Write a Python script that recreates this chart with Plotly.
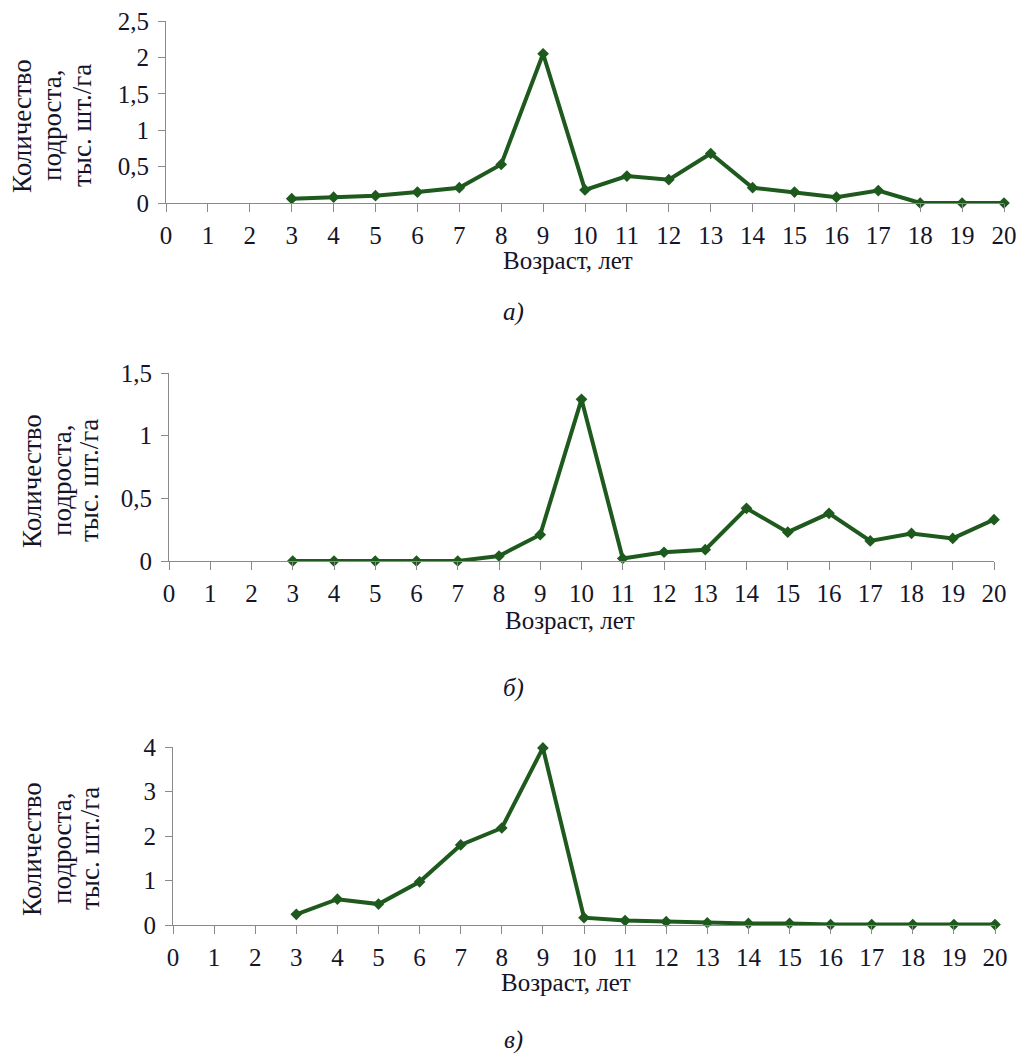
import plotly.graph_objects as go

W, H = 1017, 1054

ages = list(range(3, 21))
x_ticks = list(range(0, 21))

vals_a = [0.06, 0.08, 0.10, 0.15, 0.21, 0.53, 2.05, 0.18, 0.37, 0.32, 0.68, 0.21, 0.15, 0.08, 0.17, 0.0, 0.0, 0.0]
vals_b = [0.0, 0.0, 0.0, 0.0, 0.0, 0.04, 0.21, 1.29, 0.02, 0.07, 0.09, 0.42, 0.23, 0.38, 0.16, 0.22, 0.18, 0.33]
vals_c = [0.24, 0.58, 0.47, 0.97, 1.80, 2.18, 3.98, 0.165, 0.10, 0.075, 0.05, 0.035, 0.035, 0.01, 0.01, 0.01, 0.01, 0.01]

yticks_a = [0, 0.5, 1, 1.5, 2, 2.5]
ytext_a = ["0", "0,5", "1", "1,5", "2", "2,5"]
yticks_b = [0, 0.5, 1, 1.5]
ytext_b = ["0", "0,5", "1", "1,5"]
yticks_c = [0, 1, 2, 3, 4]
ytext_c = ["0", "1", "2", "3", "4"]

y_title_lines = ["Количество", "подроста,", "тыс. шт./га"]
x_title = "Возраст, лет"
captions = ["а)", "б)", "в)"]

LINE = "#1e5a1e"
AXIS = "#8a8a8a"
TXT = "#15152a"
FONT = "Liberation Serif"
FS = 25
FS_YT = 27


def px(x):
    return x / W


def py(y):
    return 1 - y / H


panels = [
    dict(vals=vals_a, x0=166, x1=1004, yb=203, yt=21, ymax=2.5, tv=yticks_a, tt=ytext_a,
         ytx=[22, 52, 82], yty=126, xtitle=(568, 261), cap=(513, 312)),
    dict(vals=vals_b, x0=169, x1=994, yb=561, yt=373, ymax=1.5, tv=yticks_b, tt=ytext_b,
         ytx=[32, 62, 89], yty=481, xtitle=(570, 620), cap=(513, 688)),
    dict(vals=vals_c, x0=173, x1=995, yb=925, yt=747, ymax=4, tv=yticks_c, tt=ytext_c,
         ytx=[32, 62, 90], yty=849, xtitle=(566, 982), cap=(513, 1040)),
]

fig = go.Figure()
annotations = []
layout = {}
for i, p in enumerate(panels, start=1):
    xa = "x" if i == 1 else f"x{i}"
    ya = "y" if i == 1 else f"y{i}"
    fig.add_trace(go.Scatter(
        x=ages, y=p["vals"], mode="lines+markers", xaxis=xa, yaxis=ya,
        line=dict(color=LINE, width=4),
        marker=dict(symbol="diamond", size=9, color=LINE),
        cliponaxis=False, showlegend=False,
    ))
    kx = "xaxis" if i == 1 else f"xaxis{i}"
    ky = "yaxis" if i == 1 else f"yaxis{i}"
    layout[kx] = dict(
        domain=[px(p["x0"]), px(p["x1"])], range=[0, 20], anchor=ya, automargin=False,
        tickmode="array", tickvals=x_ticks, ticktext=[str(t) for t in x_ticks],
        showline=True, linecolor=AXIS, linewidth=1, ticks="outside", ticklen=8,
        tickcolor=AXIS, showgrid=False, zeroline=False,
        tickfont=dict(family=FONT, size=FS, color=TXT), ticklabelstandoff=2,
    )
    layout[ky] = dict(
        domain=[py(p["yb"]), py(p["yt"])], range=[0, p["ymax"]], anchor=xa, automargin=False,
        tickmode="array", tickvals=p["tv"], ticktext=p["tt"],
        showline=True, linecolor=AXIS, linewidth=1, ticks="outside", ticklen=7,
        tickcolor=AXIS, showgrid=False, zeroline=False,
        tickfont=dict(family=FONT, size=FS, color=TXT), ticklabelstandoff=4,
    )
    for lx, line in zip(p["ytx"], y_title_lines):
        annotations.append(dict(
            x=px(lx), y=py(p["yty"]), xref="paper", yref="paper",
            text=line, textangle=-90, showarrow=False,
            font=dict(family=FONT, size=FS_YT, color=TXT), xanchor="center", yanchor="middle",
        ))
    annotations.append(dict(
        x=px(p["xtitle"][0]), y=py(p["xtitle"][1]), xref="paper", yref="paper",
        text=x_title, showarrow=False,
        font=dict(family=FONT, size=FS, color=TXT), xanchor="center", yanchor="middle",
    ))
    annotations.append(dict(
        x=px(p["cap"][0]), y=py(p["cap"][1]), xref="paper", yref="paper",
        text=f"<i>{captions[i-1]}</i>", showarrow=False,
        font=dict(family=FONT, size=FS, color=TXT), xanchor="center", yanchor="middle",
    ))

fig.update_layout(
    width=W, height=H, margin=dict(l=0, r=0, t=0, b=0),
    paper_bgcolor="white", plot_bgcolor="white",
    annotations=annotations, **layout,
)

fig.write_html(
    "out.html",
    config={"displayModeBar": False},
    post_script="document.body.style.margin='0';document.body.style.overflow='hidden';",
)
